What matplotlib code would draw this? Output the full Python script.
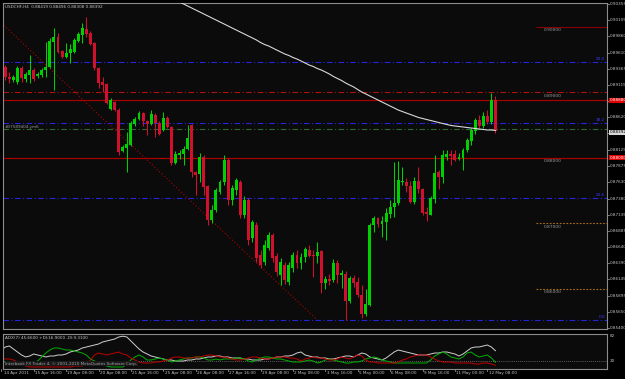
import matplotlib
matplotlib.use("Agg")
import matplotlib.pyplot as plt
from matplotlib.transforms import blended_transform_factory
import numpy as np

# ---------------- data ----------------
opens = [0.89267,0.89390,0.89237,0.89191,0.89160,0.89374,0.89206,0.89267,0.89343,0.89252,
         0.89267,0.89343,0.89390,0.89771,0.89847,0.89633,0.89542,0.89603,0.89618,0.89786,
         0.89878,0.89969,0.89908,0.89756,0.89374,0.89160,0.89129,0.88748,0.88854,0.88733,
         0.88107,0.88152,0.88198,0.88519,0.88595,0.88687,0.88565,0.88519,0.88656,0.88534,
         0.88427,0.88610,0.88473,0.87923,0.88045,0.88061,0.88137,0.88504,0.87786,0.87755,
         0.88015,0.87572,0.87053,0.87206,0.87481,0.87633,0.87969,0.87359,0.87511,0.87633,
         0.87129,0.87359,0.86779,0.86977,0.86519,0.86412,0.86626,0.86824,0.86504,0.86213,
         0.86366,0.86106,0.86320,0.86519,0.86396,0.86488,0.86595,0.86519,0.86504,0.86580,
         0.86091,0.86152,0.86137,0.86396,0.86213,0.86228,0.85816,0.86167,0.86106,0.85908,
         0.85617,0.85755,0.86977,0.87083,0.86992,0.87023,0.87145,0.87251,0.87313,0.87633,
         0.87633,0.87572,0.87328,0.87648,0.87526,0.87175,0.87129,0.87374,0.87786,0.87709,
         0.88015,0.88061,0.88061,0.87984,0.88000,0.88122,0.88259,0.88412,0.88580,0.88488,
         0.88641,0.88549,0.88885]
highs = [0.89466,0.89420,0.89313,0.89267,0.89405,0.89405,0.89313,0.89572,0.89374,0.89313,
         0.89374,0.89771,0.89832,0.89985,0.89908,0.89649,0.89756,0.89740,0.89832,0.89924,
         0.90061,0.90153,0.89939,0.89771,0.89390,0.89237,0.89145,0.88916,0.88870,0.88763,
         0.88198,0.88397,0.88565,0.88626,0.88717,0.88702,0.88580,0.88733,0.88687,0.88565,
         0.88702,0.88641,0.88488,0.88107,0.88122,0.88183,0.88504,0.88519,0.87801,0.88076,
         0.88045,0.87587,0.87282,0.87541,0.87664,0.88045,0.87999,0.87587,0.87694,0.87664,
         0.87420,0.87389,0.87053,0.87023,0.86595,0.86748,0.86870,0.86855,0.86549,0.86473,
         0.86412,0.86412,0.86565,0.86595,0.86549,0.86641,0.86671,0.86595,0.86717,0.86595,
         0.86198,0.86228,0.86457,0.86442,0.86290,0.86274,0.86198,0.86213,0.86183,0.86061,
         0.86000,0.87007,0.87114,0.87099,0.87114,0.87236,0.87359,0.87938,0.87954,0.87862,
         0.87694,0.87648,0.87709,0.87862,0.87541,0.87251,0.87420,0.88045,0.87817,0.88122,
         0.88122,0.88122,0.88122,0.88076,0.88152,0.88305,0.88458,0.88610,0.88656,0.88702,
         0.88733,0.88992,0.88946]
lows = [0.89237,0.89191,0.89145,0.89160,0.89130,0.89160,0.89160,0.89145,0.89176,0.89221,
        0.89237,0.89237,0.89374,0.89038,0.89603,0.89527,0.89527,0.89450,0.89603,0.89771,
        0.89756,0.89847,0.89725,0.89343,0.89069,0.89007,0.88824,0.88733,0.88717,0.88045,
        0.88091,0.87786,0.88183,0.88488,0.88580,0.88488,0.88351,0.88504,0.88320,0.88351,
        0.88412,0.88458,0.87893,0.87908,0.87984,0.87893,0.88122,0.87709,0.87435,0.87633,
        0.87435,0.86976,0.87007,0.87175,0.87450,0.87587,0.87282,0.87282,0.87435,0.87084,
        0.87084,0.86671,0.86717,0.86412,0.86320,0.86366,0.86595,0.86412,0.86198,0.86061,
        0.86076,0.86061,0.86259,0.86320,0.86305,0.86412,0.86488,0.86183,0.86396,0.85938,
        0.86000,0.86061,0.86106,0.86091,0.86015,0.85527,0.85786,0.86030,0.85877,0.85556,
        0.85587,0.85740,0.86870,0.86946,0.86794,0.86748,0.87084,0.87099,0.87282,0.87587,
        0.87480,0.87313,0.87297,0.87465,0.87129,0.87038,0.87129,0.87313,0.87526,0.87618,
        0.87969,0.87893,0.87954,0.87969,0.87817,0.88091,0.88198,0.88366,0.88458,0.88458,
        0.88519,0.88519,0.88381]
closes = [0.89390,0.89237,0.89206,0.89237,0.89374,0.89221,0.89282,0.89343,0.89206,0.89282,
          0.89343,0.89390,0.89786,0.89847,0.89618,0.89542,0.89603,0.89664,0.89801,0.89893,
          0.89985,0.89893,0.89740,0.89374,0.89145,0.89115,0.88839,0.88885,0.88733,0.88091,
          0.88168,0.88213,0.88534,0.88595,0.88687,0.88565,0.88519,0.88671,0.88534,0.88366,
          0.88610,0.88473,0.87923,0.88061,0.88076,0.88137,0.88305,0.87786,0.87740,0.88015,
          0.87557,0.87053,0.87206,0.87511,0.87633,0.87969,0.87359,0.87541,0.87664,0.87129,
          0.87359,0.86748,0.87023,0.86473,0.86366,0.86671,0.86824,0.86473,0.86259,0.86412,
          0.86137,0.86366,0.86519,0.86396,0.86488,0.86610,0.86504,0.86504,0.86565,0.86091,
          0.86152,0.86122,0.86396,0.86213,0.86244,0.85816,0.86167,0.86091,0.85908,0.85617,
          0.85771,0.86977,0.87083,0.86992,0.87038,0.87160,0.87251,0.87313,0.87664,0.87648,
          0.87572,0.87328,0.87648,0.87526,0.87160,0.87145,0.87389,0.87771,0.87709,0.88045,
          0.88061,0.88030,0.87969,0.88015,0.88122,0.88275,0.88427,0.88580,0.88488,0.88641,
          0.88549,0.88885,0.88412]

ma_start = 44
ma_values = [0.90381,0.90351,0.90320,0.90290,0.90259,0.90229,0.90198,0.90168,0.90137,0.90107,
             0.90076,0.90046,0.90015,0.89984,0.89954,0.89923,0.89893,0.89862,0.89832,0.89801,
             0.89763,0.89732,0.89710,0.89679,0.89648,0.89618,0.89587,0.89565,0.89534,0.89511,
             0.89481,0.89450,0.89419,0.89397,0.89366,0.89343,0.89313,0.89282,0.89244,0.89213,
             0.89183,0.89145,0.89114,0.89084,0.89045,0.89007,0.88977,0.88946,0.88916,0.88885,
             0.88854,0.88824,0.88793,0.88763,0.88732,0.88709,0.88686,0.88664,0.88641,0.88618,
             0.88603,0.88587,0.88572,0.88557,0.88541,0.88526,0.88511,0.88496,0.88488,0.88480,
             0.88473,0.88465,0.88457,0.88450,0.88442,0.88435,0.88427,0.88427,0.88419]

adx = [47.5,55,57.5,50,42.5,35,30,32.5,37.5,35,
       32.5,30,32.5,32.5,35,35,37.5,42.5,45,47.5,
       52.5,55,57.5,60,62.5,67.5,70,72.5,75,80,
       82,80,70,60,50,42.5,37.5,32.5,30,27.5,
       25,22.5,22.5,20,20,20,22.5,22.5,25,25,
       27.5,30,30,32.5,32.5,30,30,27.5,27.5,27.5,
       25,25,22.5,22.5,22.5,25,25,27.5,30,30,
       32.5,32.5,35,40,42.5,35,32.5,30,30,27.5,
       27.5,25,25,27.5,30,32.5,32.5,30,35,40,
       37.5,30,27.5,25,22.5,27.5,35,42.5,47.5,45,
       42.5,40,37.5,35,35,35,37.5,40,40,42.5,
       42.5,40,37.5,32.5,37.5,45,52.5,55,55,57.5,
       60,55,45.66]
plus_di = [17.5,17.5,15,15,12.5,12.5,10,12.5,17.5,20,
           30,40,47.5,52.5,52.5,50,47.5,47.5,45,42.5,
           40,35,25,20,15,12.5,7.5,5,5,5,
           5,12.5,22.5,30,35,30,22.5,22.5,25,27.5,
           25,22.5,17.5,20,22.5,25,27.5,27.5,30,30,
           27.5,22.5,22.5,25,22.5,25,25,25,27.5,27.5,
           25,20,17.5,22.5,27.5,30,30,27.5,25,25,
           22.5,20,17.5,17.5,17.5,20,22.5,20,15,17.5,
           22.5,25,22.5,20,17.5,15,15,17.5,17.5,20,
           25,27.5,30,27.5,22.5,20,17.5,15,15,15,
           15,15,15,15,15,15,22.5,32.5,37.5,42.5,
           37.5,30,27.5,25,30,40,42.5,35,30,32.5,
           35,27.5,16.90]
minus_di = [27.5,25,25,22.5,17.5,12.5,7.5,5,5,5,
            5,5,5,5,5,5,5,5,7.5,7.5,
            7.5,12.5,22.5,35,40,37.5,35,37.5,40,42.5,
            37.5,35,27.5,22.5,17.5,15,15,15,17.5,17.5,
            20,22.5,27.5,30,30,27.5,27.5,27.5,30,30,
            32.5,35,35,32.5,30,30,27.5,25,22.5,22.5,
            25,27.5,30,30,27.5,25,25,27.5,30,30,
            30,27.5,27.5,25,20,25,27.5,30,27.5,27.5,
            25,22.5,22.5,25,30,27.5,25,30,35,32.5,
            22.5,17.5,17.5,15,15,15,15,15,17.5,22.5,
            25,30,32.5,35,35,35,30,25,20,17.5,
            17.5,17.5,15,15,15,15,15,12.5,12.5,15,
            15,12.5,9.31]

time_label_bars = [0, 8, 16, 24, 32, 40, 48, 56, 64, 72, 80, 88, 96, 104, 112, 120]
time_labels = ["14 Apr 2011", "15 Apr 16:00", "19 Apr 08:00", "20 Apr 08:00", "21 Apr 16:00",
               "25 Apr 08:00", "26 Apr 08:00", "27 Apr 16:00", "29 Apr 08:00", "2 May 08:00",
               "3 May 16:00", "5 May 00:00", "6 May 08:00", "9 May 16:00", "11 May 00:00",
               "12 May 08:00"]
price_ticks = [0.90355, 0.90105, 0.89860, 0.89610, 0.89365, 0.89115, 0.88870, 0.88620,
               0.88375, 0.88125, 0.87875, 0.87630, 0.87380, 0.87135, 0.86885, 0.86640,
               0.86390, 0.86145, 0.85895, 0.85650, 0.85400]

fib_low, fib_high = 0.85527, 0.93417
fib_levels = [0.0, 23.6, 38.2, 50.0, 61.8]
round_levels = [0.90, 0.89, 0.88, 0.87, 0.86]
hline_red = [0.88880, 0.88000]
green_level = 0.88435
trend_bars = [0, 78]
trend_prices = [0.90061, 0.85527]
bid_price = 0.88392
header = "USDCHF,H4  0.88419 0.88496 0.88308 0.88392"

# ---------------- figure ----------------
W, H = 625, 379
BG = "#0b0b0b"
FR = "#8c8c8c"
TXT = "#c4c4c4"
BULL = "#00d000"
BEAR = "#d0102c"
FONT = ["DejaVu Sans Condensed", "DejaVu Sans"]
plt.rcParams["font.family"] = FONT
FS_AX = 3.2
FS_T = 3.0

fig = plt.figure(figsize=(W / 100, H / 100), dpi=100, facecolor="black")
ax = fig.add_axes([3 / W, 1 - 329 / H, 604 / W, 326 / H])
axi = fig.add_axes([3 / W, 1 - 369 / H, 604 / W, 35 / H])

n = len(closes)
assert len(opens) == n and len(highs) == n and len(lows) == n
assert len(adx) == n and len(plus_di) == n and len(minus_di) == n
xs = np.arange(n)
XL = (0.42, 149.55)

for a in (ax, axi):
    a.set_facecolor(BG)
    a.set_xlim(*XL)
    a.set_xticks([])
    a.set_yticks([])
    for s in a.spines.values():
        s.set_color(FR)
        s.set_linewidth(0.8)

ax.set_ylim(0.85388, 0.90366)
axi.set_ylim(0, 87.5)

# horizontal objects
dashdot = (0, (5, 2.2, 1, 2.2))
for lv in fib_levels:
    price = fib_low + (fib_high - fib_low) * lv / 100.0
    ax.axhline(price, color="#2424d8", lw=0.8, ls=dashdot, zorder=1)
    if lv < 61:
        ax.text(149.0, price + 0.00008, f"{lv:.1f}", color="#3a3aff", fontsize=FS_T,
                ha="right", va="bottom", zorder=5)

ax.axhline(round_levels[1], color="#b01010", lw=0.8, ls=dashdot, zorder=1)
for p in hline_red:
    ax.axhline(p, color="#a80000", lw=0.9, zorder=1)
ax.axhline(green_level, color="#2f6a2f", lw=0.8, ls=dashdot, zorder=1)
ax.hlines(round_levels[0], 132, XL[1], color="#8a0000", lw=0.8, zorder=1)
ax.hlines(round_levels[3:], 132, XL[1], color="#b07018", lw=0.8, ls=(0, (1.5, 1.5)), zorder=1)

for p in round_levels:
    ax.text(134.0, p - 0.00022, f"{p:.5f}", color="#9a9a9a", fontsize=FS_AX,
            ha="left", va="top", zorder=5)

ax.text(0.8, green_level + 0.00004, "#37589404.ym6", color="#9a9a9a", fontsize=FS_T,
        ha="left", va="bottom", zorder=5)

# trend line
ax.plot(trend_bars, trend_prices, color="#b00000", lw=0.8, ls=(0, (1, 2)), zorder=2)

# candles
for i in xs:
    o, h, l, c = opens[i], highs[i], lows[i], closes[i]
    col = BULL if c >= o else BEAR
    ax.vlines(i, l, h, color=col, lw=0.75, zorder=3)
    bot = min(o, c)
    ht = max(abs(c - o), 0.00016)
    ax.bar(i, ht, bottom=bot, width=0.72, color=col, linewidth=0, zorder=4)

# moving average
ax.plot(np.arange(ma_start, ma_start + len(ma_values)), ma_values, color="#d8d8d8",
        lw=0.8, zorder=5)

# header
ax.text(0.004, 0.993, header, transform=ax.transAxes, color=TXT, fontsize=FS_T,
        ha="left", va="top", zorder=6)

# right price axis
tr = blended_transform_factory(fig.transFigure, ax.transData)
for p in price_ticks:
    ax.plot([607 / W, 609 / W], [p, p], transform=tr, color=FR, lw=0.6, clip_on=False)
    ax.text(609.5 / W, p, f"{p:.5f}", transform=tr, color=TXT, fontsize=FS_T,
            ha="left", va="center", clip_on=False)

for p, lab in [(hline_red[0], "0.88880"), (hline_red[1], "0.88000")]:
    ax.text(609.5 / W, p, lab, transform=tr, color="white", fontsize=FS_T, ha="left",
            va="center", clip_on=False,
            bbox=dict(boxstyle="square,pad=0.12", fc="#e00000", ec="none"))
ax.text(609.5 / W, bid_price, f"{bid_price:.5f}", transform=tr, color="black", fontsize=FS_T,
        ha="left", va="center", clip_on=False,
        bbox=dict(boxstyle="square,pad=0.12", fc="#d8d8d8", ec="none"))

# indicator panel
axi.axhline(20, color="#7a7a7a", lw=0.6, ls=(0, (1, 1.5)))
axi.plot(xs, adx, color="#cfcfcf", lw=0.7)
axi.plot(xs, plus_di, color="#00b000", lw=0.7)
axi.plot(xs, minus_di, color="#c00000", lw=0.7)
axi.text(0.004, 0.93, f"ADX(7) {adx[-1]:.4f} +DI:{plus_di[-1]:.4f} -DI:{minus_di[-1]:.4f}",
         transform=axi.transAxes, color=TXT, fontsize=FS_T, ha="left", va="top")
axi.text(0.004, 0.10, "Interbank FX Trader 4, \u00a9 2001-2010 MetaQuotes Software Corp.",
         transform=axi.transAxes, color="#a0a0a0", fontsize=FS_T, ha="left", va="bottom",
         bbox=dict(boxstyle="square,pad=0.1", fc="#1a1a1a", ec="none"))
tri = blended_transform_factory(fig.transFigure, axi.transData)
for v in (82, 20):
    axi.text(609.5 / W, v, f"{v}", transform=tri, color=TXT, fontsize=FS_T,
             ha="left", va="center", clip_on=False)

# time axis labels
trt = blended_transform_factory(ax.transData, fig.transFigure)
for b, lab in zip(time_label_bars, time_labels):
    axi.plot([b, b], [1 - 369 / H, 1 - 371 / H], transform=trt, color=FR, lw=0.6,
             clip_on=False)
    axi.text(max(b, 0.45) + 0.3, 1 - 371 / H, lab, transform=trt, color=TXT, fontsize=FS_T,
             ha="left", va="top", clip_on=False)

fig.savefig("out.png", dpi=100, facecolor="black")
